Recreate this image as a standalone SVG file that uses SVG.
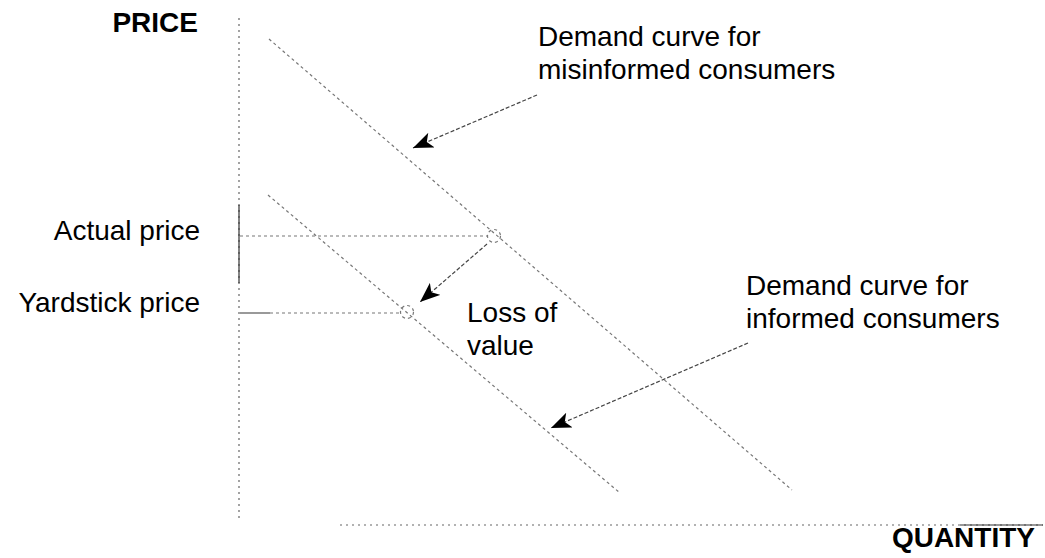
<svg xmlns="http://www.w3.org/2000/svg" width="1045" height="558" viewBox="0 0 1045 558">
<style>
.lbl{font-family:"Liberation Sans",Arial,sans-serif;font-size:28px;fill:#000}
.bold{font-weight:bold}
.dot{stroke:#777;stroke-width:1.2;stroke-dasharray:3,3;fill:none}
.axis{stroke:#666;stroke-width:1.2;stroke-dasharray:2,4;fill:none}
.ptr{stroke:#444;stroke-width:1.2;stroke-dasharray:4,2;fill:none;marker-end:url(#ah)}
</style>
<defs>
<marker id="ah" viewBox="0 0 20 16" refX="20" refY="8" markerWidth="20" markerHeight="16" markerUnits="userSpaceOnUse" orient="auto">
<path d="M0,0 L20,8 L0,16 L5,8 Z" fill="#000"/>
</marker>
</defs>
<g id="axes">
<line class="axis" x1="239" y1="18" x2="239" y2="520"/>
<line class="axis" x1="340" y1="525" x2="1043" y2="525"/>
<line x1="960" y1="525" x2="1043" y2="525" stroke="#333" stroke-width="1.2"/>
<line x1="239" y1="205" x2="239" y2="283" stroke="#333" stroke-width="1.2"/>
</g>
<g id="curves">
<line class="dot" x1="269" y1="39" x2="792" y2="490"/>
<line class="dot" x1="268" y1="195" x2="620" y2="493"/>
</g>
<g id="guides">
<line class="dot" x1="240" y1="236" x2="488" y2="236"/>
<line x1="240" y1="313" x2="270" y2="313" stroke="#777" stroke-width="1.5"/>
<line class="dot" x1="270" y1="313" x2="401" y2="313"/>
<circle class="dot" cx="494" cy="236" r="6.5"/>
<circle class="dot" cx="407" cy="312" r="6.5"/>
</g>
<g id="connectors">
<line class="ptr" x1="537" y1="95" x2="413" y2="148"/>
<line class="ptr" x1="487" y1="244" x2="420" y2="302"/>
<line class="ptr" x1="748" y1="343" x2="551" y2="428"/>
</g>
<g id="labels">
<text class="lbl bold" x="198" y="32" text-anchor="end">PRICE</text>
<text class="lbl bold" x="1035" y="547" text-anchor="end">QUANTITY</text>
<text class="lbl" x="200" y="240" text-anchor="end">Actual price</text>
<text class="lbl" x="200" y="312" text-anchor="end">Yardstick price</text>
<text class="lbl" x="538" y="46">Demand curve for</text>
<text class="lbl" x="538" y="79">misinformed consumers</text>
<text class="lbl" x="467" y="322">Loss of</text>
<text class="lbl" x="467" y="355">value</text>
<text class="lbl" x="746" y="295">Demand curve for</text>
<text class="lbl" x="746" y="328">informed consumers</text>
</g>
</svg>
